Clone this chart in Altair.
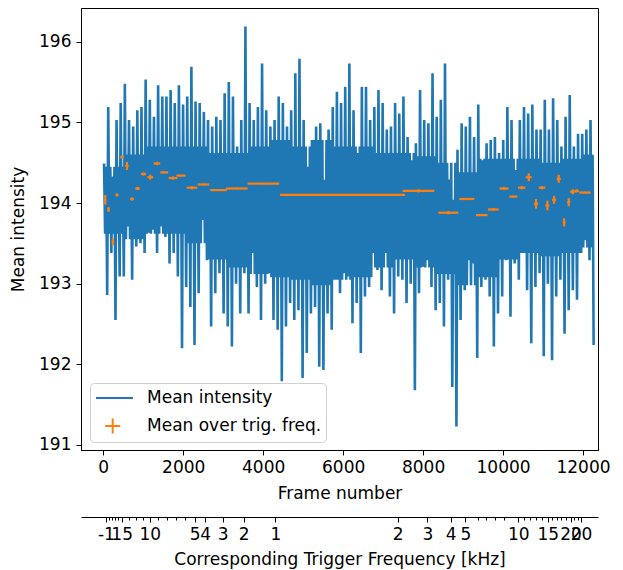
import altair as alt
import pandas as pd

# ---------------- data ----------------
# envelope of the noisy "Mean intensity" trace, one sample every ~104 frames
frames = list(range(20, 12200, 104))
hi = [194.49, 195.19, 194.33, 195.03, 195.24, 195.48, 195.03, 194.95, 195.15, 195.19,
      195.53, 195.28, 195.07, 195.46, 195.32, 195.32, 195.40, 195.24, 195.46, 195.22,
      195.32, 195.69, 195.26, 195.24, 195.13, 195.03, 194.95, 195.07, 195.03, 195.36,
      195.50, 195.32, 194.70, 195.03, 196.19, 195.24, 195.03, 195.19, 195.73, 195.15,
      194.95, 195.03, 195.32, 195.24, 194.95, 195.15, 195.61, 195.79, 195.03, 194.45,
      194.78, 194.95, 194.99, 194.29, 194.91, 195.19, 195.38, 195.24, 195.44, 195.73,
      195.15, 194.62, 195.44, 195.44, 195.03, 195.19, 195.40, 195.24, 194.91, 194.95,
      195.24, 195.11, 195.32, 194.82, 194.53, 194.74, 195.40, 195.03, 194.99, 195.61,
      195.07, 195.28, 195.73, 194.29, 194.04, 194.66, 194.99, 194.95, 195.07, 194.82,
      195.22, 194.53, 194.74, 194.78, 194.82, 194.62, 194.78, 195.19, 195.03, 194.41,
      195.03, 195.19, 195.11, 195.22, 194.91, 194.91, 195.28, 194.91, 195.30, 195.03,
      194.70, 195.07, 195.34, 194.70, 194.86, 194.86, 194.91, 195.03]
lo = [192.86, 193.38, 192.55, 193.09, 193.09, 193.71, 193.05, 193.46, 193.50, 193.38,
      193.63, 193.67, 193.38, 193.71, 193.58, 193.25, 193.38, 193.09, 192.20, 192.96,
      192.71, 192.24, 192.88, 193.79, 193.29, 192.47, 192.88, 193.13, 192.63, 192.47,
      192.22, 193.00, 192.63, 193.13, 192.63, 193.38, 192.96, 192.55, 193.00, 193.13,
      192.55, 192.43, 191.79, 192.47, 192.76, 192.55, 192.67, 191.83, 192.14, 192.63,
      192.71, 191.97, 191.93, 192.63, 192.43, 193.05, 192.88, 193.13, 193.09, 192.51,
      192.76, 192.14, 192.84, 192.96, 193.38, 193.17, 192.92, 193.38, 192.84, 192.63,
      193.09, 193.05, 192.76, 193.00, 191.68, 192.88, 193.21, 193.29, 192.96, 192.67,
      192.76, 192.47, 193.05, 191.72, 191.23, 192.55, 192.92, 193.29, 193.25, 192.08,
      192.96, 193.05, 192.84, 192.22, 192.63, 192.84, 193.29, 192.59, 193.25, 193.05,
      193.38, 192.92, 192.26, 192.96, 193.13, 192.10, 193.00, 192.05, 192.84, 193.05,
      192.38, 192.67, 192.92, 192.80, 193.38, 193.54, 193.29, 192.24]
# limits of the solid (dense) part of the trace, one value per block of 5 samples
core_hi = [194.45, 194.60, 194.70, 194.70, 194.70, 194.62, 194.62, 194.70, 194.78, 194.70,
           194.78, 194.70, 194.70, 194.62, 194.62, 194.58, 194.50, 194.38, 194.55, 194.55,
           194.55, 194.50, 194.55, 194.60]
core_lo = [193.62, 193.55, 193.62, 193.62, 193.50, 193.30, 193.20, 193.12, 193.08, 193.05,
           192.98, 193.05, 193.08, 193.20, 193.30, 193.20, 193.12, 192.98, 193.08, 193.30,
           193.38, 193.34, 193.38, 193.45]

# "Mean over trig. freq." points: centre frame, half width (frames), mean, half height
m_frame = [50, 132, 242, 343, 467, 593, 718, 858, 1007, 1175, 1343, 1525, 1743, 1943,
           2217, 2508, 2883, 3343, 4007, 5986, 7883, 8633, 9093, 9467, 9757, 10025,
           10258, 10467, 10642, 10825, 10975, 11108, 11276, 11393, 11526, 11643, 11743,
           11843, 12050]
m_xerr = [26, 26, 31, 36, 41, 41, 47, 57, 62, 73, 83, 98, 109, 114, 133, 145, 207, 269,
          396, 1562, 396, 250, 188, 145, 134, 114, 99, 93, 75, 50, 83, 50, 52, 50, 37,
          37, 62, 52, 142]
m_val = [194.04, 193.92, 193.52, 194.10, 194.57, 194.46, 194.05, 194.18, 194.36, 194.32,
         194.49, 194.38, 194.31, 194.34, 194.19, 194.23, 194.16, 194.18, 194.24, 194.10,
         194.15, 193.88, 194.05, 193.85, 193.92, 194.18, 194.08, 194.19, 194.32, 193.99,
         194.19, 193.97, 194.04, 194.30, 193.76, 194.01, 194.14, 194.15, 194.13]
m_yerr = [0.06, 0.03, 0.04, 0.02, 0.02, 0.05, 0.02, 0.02, 0.02, 0.03, 0.02, 0.01, 0.02,
          0.01, 0.02, 0.01, 0.01, 0.01, 0.01, 0.01, 0.02, 0.02, 0.01, 0.01, 0.02, 0.02,
          0.01, 0.02, 0.05, 0.06, 0.02, 0.06, 0.05, 0.05, 0.05, 0.05, 0.03, 0.02, 0.01]

# secondary axis (trigger frequency) tick positions in frame units
sec_major_pos = [65, 460, 1163, 2285, 2548, 2988, 3513, 4303, 7363, 8110, 8688, 9058,
                 10380, 11118, 11688, 11950]
sec_major_lab = ["-1", "15", "10", "5", "4", "3", "2", "1", "2", "3", "4", "5",
                 "10", "15", "20", "20"]
sec_minor_pos = [144, 223, 302, 381, 636, 812, 987, 1375, 1600, 1825, 2040,
                 9363, 9583, 9800, 10022, 10528, 10675, 10823, 10970, 11232, 11345,
                 11460, 11573, 11780, 11870]

series_names = ["Mean intensity", "Mean over trig. freq."]
BLUE, ORANGE = "#1f77b4", "#ff7f0e"

# ---------------- tables ----------------
rows = []
for i, (f, h, l) in enumerate(zip(frames, hi, lo)):
    b = i // 5
    rows.append({"frame": f, "val": h})
    rows.append({"frame": f + 26, "val": core_lo[b]})
    rows.append({"frame": f + 52, "val": core_hi[b]})
    rows.append({"frame": f + 78, "val": l})
line_df = pd.DataFrame(rows)

err_df = pd.DataFrame({
    "frame": m_frame,
    "x1": [c - e for c, e in zip(m_frame, m_xerr)],
    "x2": [c + e for c, e in zip(m_frame, m_xerr)],
    "val": m_val,
    "y1": [v - e for v, e in zip(m_val, m_yerr)],
    "y2": [v + e for v, e in zip(m_val, m_yerr)],
})
leg_df = pd.DataFrame({"series": series_names, "frame": [0, 0], "val": [194, 194]})
sec_df = pd.DataFrame({"frame": sec_major_pos + sec_minor_pos})

XDOM = [-557, 12375]
YDOM = [190.938, 196.418]
FONT = "DejaVu Sans"
FS = 17

xs = alt.Scale(domain=XDOM, nice=False, zero=False)
ys = alt.Scale(domain=YDOM, nice=False, zero=False)

x_axis = alt.Axis(values=list(range(0, 12001, 2000)), format="d", title="Frame number",
                  tickSize=5, labelPadding=4, titlePadding=10, labelFlush=False)
y_axis = alt.Axis(values=[191, 192, 193, 194, 195, 196], format="d", title="Mean intensity",
                  tickSize=5, labelPadding=5, titlePadding=11)

line = alt.Chart(line_df).mark_line(color=BLUE, strokeWidth=2.6).encode(
    x=alt.X("frame:Q", scale=xs, axis=x_axis),
    y=alt.Y("val:Q", scale=ys, axis=y_axis),
)
hbar = alt.Chart(err_df).mark_rule(color=ORANGE, strokeWidth=2.2).encode(
    x="x1:Q", x2="x2:Q", y="val:Q")
vbar = alt.Chart(err_df).mark_rule(color=ORANGE, strokeWidth=2.2).encode(
    x="frame:Q", y="y1:Q", y2="y2:Q")

legend_pts = alt.Chart(leg_df).mark_point(opacity=0, filled=False, strokeWidth=2).encode(
    x="frame:Q", y="val:Q",
    color=alt.Color("series:N", scale=alt.Scale(domain=series_names, range=[BLUE, ORANGE]),
                    legend=alt.Legend(title=None, orient="none", legendX=9, legendY=375,
                                      symbolSize=400, symbolOpacity=1, symbolStrokeWidth=2,
                                      labelFontSize=FS, labelFont=FONT, labelOffset=31,
                                      labelLimit=0, padding=4, rowPadding=8,
                                      strokeColor="#d0d0d0",
                                      fillColor="rgba(255,255,255,0.8)", cornerRadius=4,
                                      labelColor="#000000")),
    shape=alt.Shape("series:N", scale=alt.Scale(
        domain=series_names,
        range=["M-0.9,0H2.8", "M0.02,0H1.52M0.77,-0.75V0.75"]), legend=alt.Legend(title=None)),
)

main = alt.layer(line, hbar, vbar, legend_pts)

cond_test = "indexof([" + ",".join(str(p) for p in sec_major_pos) + "], datum.value) >= 0"
label_expr = "".join(f"datum.value == {p} ? '{l}' : " for p, l in zip(sec_major_pos, sec_major_lab)) + "''"

sec = alt.Chart(sec_df).mark_point(opacity=0).encode(
    x=alt.X("frame:Q", scale=alt.Scale(domain=XDOM, nice=False, zero=False),
            axis=alt.Axis(orient="bottom", offset=67, values=sec_major_pos + sec_minor_pos,
                          labelExpr=label_expr, labelOverlap=False, labelFlush=False,
                          tickSize={"condition": {"test": cond_test, "value": 5}, "value": 3},
                          labelPadding=4, titlePadding=9,
                          title="Corresponding Trigger Frequency [kHz]")),
)

chart = alt.layer(main, sec).resolve_scale(x="independent").properties(
    width=517, height=442,
    autosize=alt.AutoSizeParams(type="none"),
    padding={"left": 81, "top": 8, "right": 25, "bottom": 120},
).configure_view(stroke="black", strokeWidth=1).configure_axis(
    grid=False, domainColor="black", tickColor="black", labelColor="black",
    titleColor="black", labelFont=FONT, titleFont=FONT, labelFontSize=FS,
    titleFontSize=FS, titleFontWeight="normal", domainWidth=1, tickWidth=1,
)

chart.save("out.html", embed_options={"renderer": "svg", "actions": False})
